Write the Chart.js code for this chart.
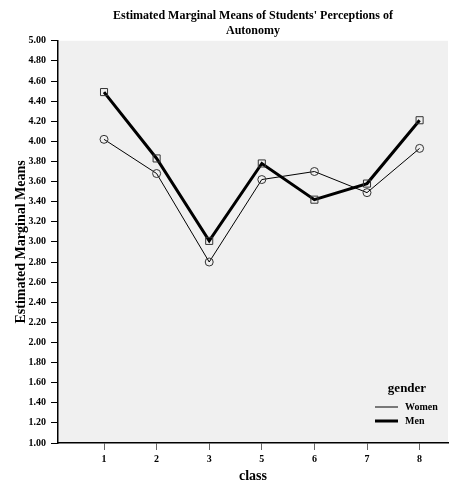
<!DOCTYPE html>
<html>
<head>
<meta charset="utf-8">
<script src="https://cdn.jsdelivr.net/npm/chart.js@4/dist/chart.umd.min.js"></script>
<style>
  html, body { margin: 0; padding: 0; background: #fff; }
  #wrap { width: 455px; height: 483px; }
</style>
</head>
<body>
<div id="wrap"><canvas id="emmChart" width="455" height="483"></canvas></div>
<script>
// Data
const classes = ['1', '2', '3', '5', '6', '7', '8'];
const womenMeans = [4.02, 3.68, 2.80, 3.62, 3.70, 3.49, 3.93];
const menMeans = [4.49, 3.83, 3.01, 3.78, 3.42, 3.58, 4.21];
const seriesLabels = ['Women', 'Men'];

const serif = "'Liberation Serif', 'Times New Roman', serif";

// Grey plot background like the SPSS output
const plotBackground = {
    id: 'plotBackground',
    beforeDraw(chart) {
        const { ctx, chartArea: a } = chart;
        ctx.save();
        ctx.fillStyle = '#f0f0f0';
        ctx.fillRect(a.left, a.top, a.right - a.left, a.bottom - a.top);
        ctx.restore();
    }
};

// Legend box drawn inside the plot, bottom right
const insideLegend = {
    id: 'insideLegend',
    afterDatasetsDraw(chart) {
        const { ctx, chartArea: a } = chart;
        const x0 = a.right - 73;
        let y = a.bottom - 36;
        ctx.save();
        ctx.fillStyle = '#000';
        ctx.textBaseline = 'middle';
        ctx.textAlign = 'center';
        ctx.font = 'bold 13px ' + serif;
        ctx.fillText('gender', x0 + 32, y - 18);
        ctx.textAlign = 'left';
        ctx.font = 'bold 10px ' + serif;
        chart.data.datasets.forEach(ds => {
            ctx.strokeStyle = ds.borderColor;
            ctx.lineWidth = ds.borderWidth;
            ctx.beginPath();
            ctx.moveTo(x0, y);
            ctx.lineTo(x0 + 23, y);
            ctx.stroke();
            ctx.fillText(ds.label, x0 + 30, y);
            y += 14;
        });
        ctx.restore();
    }
};

const ctx = document.getElementById('emmChart').getContext('2d');

new Chart(ctx, {
    type: 'line',
    data: {
        datasets: [
            {
                label: seriesLabels[0],
                data: womenMeans.map((v, i) => ({ x: i, y: v })),
                borderColor: '#000',
                borderWidth: 1,
                pointStyle: 'circle',
                pointRadius: 4,
                pointBorderColor: '#333',
                pointBorderWidth: 1,
                pointBackgroundColor: 'rgba(0,0,0,0)',
                tension: 0,
                order: 1
            },
            {
                label: seriesLabels[1],
                data: menMeans.map((v, i) => ({ x: i, y: v })),
                borderColor: '#000',
                borderWidth: 3,
                pointStyle: 'rect',
                pointRadius: 5,
                pointBorderColor: '#333',
                pointBorderWidth: 1,
                pointBackgroundColor: 'rgba(0,0,0,0)',
                tension: 0,
                order: 0
            }
        ]
    },
    options: {
        responsive: false,
        animation: false,
        layout: { padding: { left: 0, right: 7, top: 0, bottom: 0 } },
        plugins: {
            legend: { display: false },
            tooltip: { enabled: false },
            title: {
                display: true,
                fullSize: false,
                text: ["Estimated Marginal Means of Students' Perceptions of", 'Autonomy'],
                color: '#000',
                font: { family: serif, size: 12, weight: 'bold', lineHeight: 1.2 },
                padding: { top: 9, bottom: 3 }
            }
        },
        scales: {
            x: {
                type: 'linear',
                min: -0.875,
                max: 6.54,
                afterBuildTicks: scale => {
                    scale.ticks = classes.map((c, i) => ({ value: i }));
                },
                afterFit: scale => { scale.height = 40; },
                ticks: {
                    color: '#000',
                    font: { family: serif, size: 10, weight: 'bold' },
                    padding: 3,
                    maxRotation: 0,
                    callback: v => classes[v]
                },
                grid: {
                    display: true,
                    drawOnChartArea: false,
                    drawTicks: true,
                    tickLength: 7,
                    color: '#666'
                },
                border: { display: true, color: '#000', width: 1.5 },
                title: {
                    display: true,
                    text: 'class',
                    color: '#000',
                    font: { family: serif, size: 14, weight: 'bold', lineHeight: 1 },
                    padding: { top: 0, bottom: 0 }
                }
            },
            y: {
                min: 1,
                max: 5,
                afterFit: scale => { scale.width = 58; },
                ticks: {
                    stepSize: 0.2,
                    color: '#000',
                    font: { family: serif, size: 10, weight: 'bold' },
                    padding: 5,
                    callback: v => v.toFixed(2)
                },
                grid: {
                    display: true,
                    drawOnChartArea: false,
                    drawTicks: true,
                    tickLength: 7,
                    color: '#000'
                },
                border: { display: true, color: '#000', width: 1.5 },
                title: {
                    display: true,
                    text: 'Estimated Marginal Means',
                    color: '#000',
                    font: { family: serif, size: 14, weight: 'bold' },
                    padding: { top: 13, bottom: 0 }
                }
            }
        }
    },
    plugins: [plotBackground, insideLegend]
});
</script>
</body>
</html>
